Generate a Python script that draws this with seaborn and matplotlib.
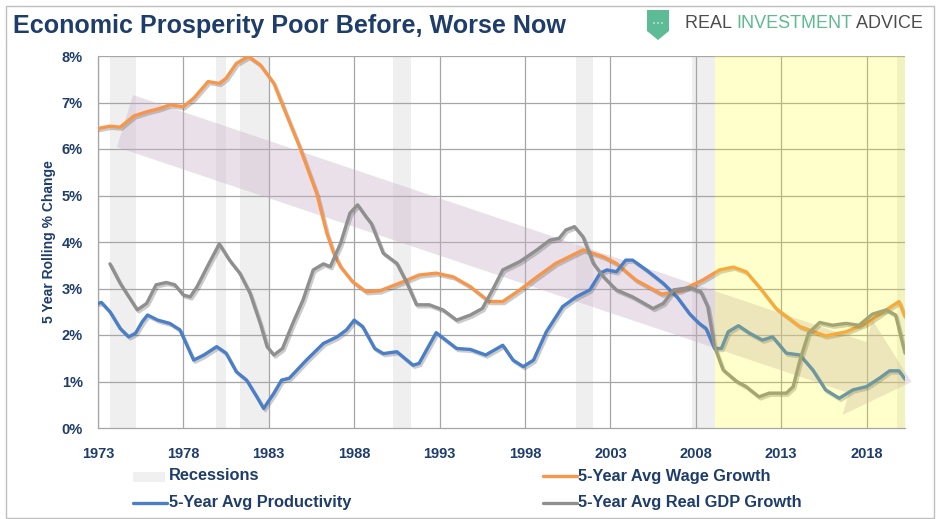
import matplotlib
matplotlib.use("Agg")
import matplotlib.pyplot as plt
import matplotlib.patheffects as pe
from matplotlib.patches import Polygon, Rectangle, Circle
from matplotlib.lines import Line2D
import seaborn as sns

# data (years, % change)
wage_years = [1973.0, 1973.7, 1974.3, 1975.1, 1975.85, 1976.6, 1977.2, 1978.0, 1978.6, 1979.45,
              1980.1, 1980.5, 1981.1, 1981.8, 1982.5, 1983.3, 1984.0, 1984.8, 1985.8, 1986.4,
              1986.8, 1987.2, 1987.9, 1988.7, 1989.5, 1990.9, 1991.8, 1992.8, 1993.8, 1994.8,
              1995.9, 1996.7, 1997.7, 1998.7, 1999.8, 2001.4, 2002.6, 2003.35, 2004.5, 2006.0,
              2007.1, 2008.4, 2009.4, 2010.2, 2010.95, 2011.7, 2012.7, 2014.1, 2015.6, 2016.8,
              2018.0, 2019.15, 2019.9, 2020.25]
wage = [6.44, 6.49, 6.47, 6.71, 6.80, 6.87, 6.95, 6.91, 7.09, 7.45,
        7.41, 7.52, 7.84, 7.99, 7.81, 7.41, 6.77, 6.05, 5.05, 4.19,
        3.76, 3.47, 3.15, 2.93, 2.95, 3.15, 3.29, 3.33, 3.25, 3.04,
        2.72, 2.72, 2.97, 3.25, 3.54, 3.83, 3.68, 3.54, 3.18, 2.88,
        2.95, 3.18, 3.40, 3.46, 3.36, 3.04, 2.57, 2.18, 1.98, 2.07,
        2.25, 2.54, 2.72, 2.39]

prod_years = [1973.0, 1973.2, 1973.7, 1974.3, 1974.8, 1975.2, 1975.6, 1975.9, 1976.5, 1977.2,
              1977.8, 1978.6, 1979.2, 1979.95, 1980.5, 1981.1, 1981.7, 1982.3, 1982.7, 1983.3,
              1983.75, 1984.2, 1985.2, 1986.2, 1987.0, 1987.55, 1988.0, 1988.5, 1989.2, 1989.7,
              1990.5, 1991.45, 1991.8, 1992.8, 1994.0, 1994.8, 1995.7, 1996.7, 1997.3, 1997.9,
              1998.5, 1999.25, 2000.2, 2001.0, 2001.8, 2002.4, 2002.8, 2003.35, 2003.9, 2004.3,
              2005.1, 2006.1, 2006.9, 2007.65, 2008.2, 2008.6, 2009.1, 2009.5, 2009.9, 2010.5,
              2011.15, 2011.9, 2012.5, 2013.3, 2014.1, 2014.85, 2015.6, 2016.4, 2017.2, 2018.0,
              2018.75, 2019.35, 2019.9, 2020.25]
prod = [2.68, 2.70, 2.50, 2.14, 1.96, 2.04, 2.29, 2.43, 2.32, 2.25,
        2.11, 1.46, 1.57, 1.75, 1.61, 1.21, 1.03, 0.67, 0.42, 0.75,
        1.03, 1.07, 1.46, 1.82, 1.96, 2.11, 2.32, 2.18, 1.71, 1.60,
        1.64, 1.35, 1.39, 2.05, 1.71, 1.69, 1.57, 1.78, 1.46, 1.32,
        1.46, 2.07, 2.61, 2.82, 2.97, 3.33, 3.40, 3.36, 3.61, 3.61,
        3.40, 3.11, 2.82, 2.45, 2.25, 2.14, 1.71, 1.71, 2.07, 2.20,
        2.04, 1.89, 1.96, 1.61, 1.57, 1.25, 0.82, 0.64, 0.82, 0.89,
        1.07, 1.23, 1.23, 1.05]

gdp_years = [1973.7, 1974.3, 1975.3, 1975.85, 1976.4, 1977.0, 1977.5, 1978.0, 1978.4, 1978.8,
             1979.4, 1980.1, 1980.7, 1981.3, 1981.9, 1982.5, 1982.9, 1983.3, 1983.8, 1984.4,
             1985.0, 1985.6, 1986.2, 1986.6, 1987.2, 1987.75, 1988.2, 1988.7, 1989.0, 1989.7,
             1990.5, 1991.1, 1991.65, 1992.4, 1993.2, 1994.0, 1994.8, 1995.5, 1996.1, 1996.7,
             1997.7, 1998.7, 1999.45, 2000.0, 2000.4, 2000.9, 2001.4, 2002.0, 2002.6, 2003.35,
             2004.3, 2005.5, 2006.1, 2006.7, 2007.65, 2008.3, 2008.7, 2009.1, 2009.6, 2010.4,
             2010.95, 2011.7, 2012.3, 2013.3, 2013.7, 2014.1, 2014.6, 2015.25, 2016.0, 2016.8,
             2017.55, 2018.35, 2019.15, 2019.7, 2020.25]
gdp = [3.53, 3.11, 2.54, 2.68, 3.08, 3.13, 3.08, 2.86, 2.82, 3.04,
       3.47, 3.96, 3.61, 3.33, 2.90, 2.25, 1.75, 1.57, 1.71, 2.25,
       2.75, 3.40, 3.53, 3.47, 3.97, 4.62, 4.80, 4.54, 4.40, 3.76,
       3.54, 3.11, 2.65, 2.65, 2.54, 2.32, 2.43, 2.57, 2.97, 3.40,
       3.58, 3.83, 4.04, 4.08, 4.26, 4.33, 4.11, 3.54, 3.25, 2.97,
       2.82, 2.57, 2.68, 2.97, 3.02, 2.93, 2.61, 1.75, 1.25, 1.00,
       0.89, 0.67, 0.75, 0.75, 0.89, 1.46, 2.04, 2.27, 2.21, 2.25,
       2.21, 2.45, 2.54, 2.43, 1.61]

rec_start = [1973.7, 1979.9, 1981.3, 1990.3, 2001.0, 2007.8, 2019.8]
rec_end = [1975.2, 1980.5, 1983.0, 1991.3, 2002.0, 2009.1, 2020.3]

highlight_start = 2009.1
highlight_end = 2020.3

# downward trend arrow (drawn shape)
band_x = [1975.05, 2017.97, 2018.35, 2020.63, 2016.59, 2016.97, 1974.11]
band_y = [7.16, 1.85, 2.32, 0.99, 0.28, 0.75, 6.04]

x_ticks = [1973, 1978, 1983, 1988, 1993, 1998, 2003, 2008, 2013, 2018]
y_ticks = [0, 1, 2, 3, 4, 5, 6, 7, 8]

legend_labels = ["Recessions", "5-Year Avg Productivity",
                 "5-Year Avg Wage Growth", "5-Year Avg Real GDP Growth"]

NAVY = "#1f3d6b"
C_WAGE = "#f7964a"
C_PROD = "#4a7fc8"
C_GDP = "#8f8f8f"
C_REC = "#f0f0f0"

sns.set_style("white")
plt.rcParams["font.family"] = ["Liberation Sans", "DejaVu Sans"]

W, H = 940, 519
def fx(px):
    return px / W
def fy(py):
    return 1 - py / H

fig = plt.figure(figsize=(9.4, 5.19), dpi=100)
ax = fig.add_axes([fx(98), fy(428), 807 / W, 372 / H])

# recessions
for s, e in zip(rec_start, rec_end):
    ax.axvspan(s, e, color="#d9d9d9", alpha=0.4, lw=0, zorder=0.5)

# grid
for xt in x_ticks:
    ax.axvline(xt, color="#a6a6a6", lw=0.9, zorder=1)
for yt in y_ticks[1:]:
    ax.axhline(yt, color="#a6a6a6", lw=0.9, zorder=1)

# trend band
ax.add_patch(Polygon(list(zip(band_x, band_y)), closed=True, facecolor="#c8b0c8",
                     alpha=0.38, lw=0, zorder=1.5, clip_on=False))

shadow = [pe.SimpleLineShadow(offset=(1.2, -1.5), shadow_color="#555555", alpha=0.3),
          pe.Normal()]
for xs, ys, c in [(wage_years, wage, C_WAGE), (prod_years, prod, C_PROD),
                  (gdp_years, gdp, C_GDP)]:
    sns.lineplot(x=xs, y=ys, ax=ax, color=c, lw=2.4, zorder=3,
                 path_effects=shadow, solid_joinstyle="round", solid_capstyle="round")

# yellow highlight over the recent period
ax.axvspan(highlight_start, highlight_end, color="#ffff00", alpha=0.2, lw=0, zorder=4)

ax.set_xlim(1973, 2020.25)
ax.set_ylim(0, 8)
ax.set_xticks(x_ticks)
ax.set_yticks(y_ticks)
ax.set_yticklabels([f"{v}%" for v in y_ticks])
ax.tick_params(axis="both", colors="#a6a6a6", length=5, width=0.9, direction="out",
               labelcolor=NAVY, labelsize=10.5)
ax.tick_params(axis="y", pad=6)
ax.tick_params(axis="x", pad=9)
for lab in ax.get_xticklabels() + ax.get_yticklabels():
    lab.set_fontweight("bold")
for side in ["top", "right"]:
    ax.spines[side].set_visible(False)
for side in ["left", "bottom"]:
    ax.spines[side].set_color("#a6a6a6")
    ax.spines[side].set_linewidth(0.9)
ax.set_ylabel("5 Year Rolling % Change", color=NAVY, fontsize=10, fontweight="bold",
              labelpad=4)
ax.set_xlabel("")

# legend, laid out by hand in two rows
fig.patches.append(Rectangle((fx(133), fy(482)), 32 / W, 10 / H, transform=fig.transFigure,
                             facecolor=C_REC, edgecolor="none"))
fig.lines.append(Line2D([fx(133), fx(167)], [fy(502.5), fy(502.5)], color=C_PROD, lw=2.4,
                        transform=fig.transFigure))
fig.lines.append(Line2D([fx(543), fx(577)], [fy(476), fy(476)], color=C_WAGE, lw=2.4,
                        transform=fig.transFigure))
fig.lines.append(Line2D([fx(543), fx(577)], [fy(502.5), fy(502.5)], color=C_GDP, lw=2.4,
                        transform=fig.transFigure))
for (lx, ly), lab in zip([(169, 476), (169, 502.5), (578, 476), (578, 502.5)], legend_labels):
    fig.text(fx(lx), fy(ly), lab, color=NAVY, fontsize=11.8, fontweight="bold",
             va="center", ha="left")

# title
fig.text(fx(13), fy(26), "Economic Prosperity Poor Before, Worse Now",
         color=NAVY, fontsize=18.1, fontweight="bold", va="center", ha="left")

# logo
shield_x = [647, 669, 669, 658, 647]
shield_y = [10, 10, 31, 40, 31]
fig.patches.append(Polygon([(fx(x), fy(y)) for x, y in zip(shield_x, shield_y)],
                           closed=True, transform=fig.transFigure,
                           facecolor="#5dbb97", edgecolor="none"))
for dx in (-4, 0, 4):
    fig.patches.append(Circle((fx(658 + dx), fy(23)), 1.0 / W,
                              transform=fig.transFigure, facecolor="white",
                              edgecolor="none"))
t1 = fig.text(fx(685), fy(24), "REAL ", color="#4d4d4d", fontsize=13,
              va="center", ha="left")
fig.canvas.draw()
r = fig.canvas.get_renderer()
bb = t1.get_window_extent(r)
t2 = fig.text(bb.x1 / W, fy(24), "INVESTMENT", color="#5dbb8f", fontsize=13,
              va="center", ha="left")
bb = t2.get_window_extent(r)
fig.text(bb.x1 / W, fy(24), " ADVICE", color="#4d4d4d", fontsize=13,
         va="center", ha="left")

# outer frame
fig.patches.append(Rectangle((fx(6), fy(518)), 928 / W, 512 / H,
                             transform=fig.transFigure, fill=False,
                             edgecolor="#bfbfbf", lw=1))

fig.savefig("out.png", dpi=100)
